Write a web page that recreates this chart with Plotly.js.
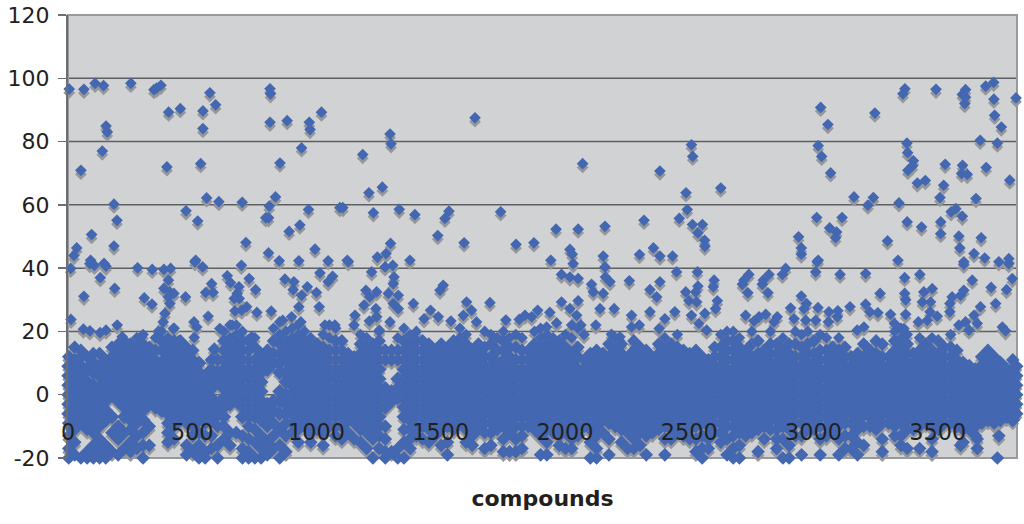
<!DOCTYPE html>
<html><head><meta charset="utf-8">
<script src="https://cdn.plot.ly/plotly-3.0.1.min.js"></script>
<style>html,body{margin:0;padding:0;background:#fff}#c{width:1024px;height:524px}</style>
</head><body><div id="c"></div>
<script>
const xTicks=[0,500,1000,1500,2000,2500,3000,3500];
const yTicks=[-20,0,20,40,60,80,100,120];
const gridValues=[0,20,40,60,80,100];
const xTitle="compounds";
const sparseX=[5,64,109,143,52,153,158,138,185,197,185,95,35,24,253,346,357,374,405,452,398,475,522,543,543,534,571,594,558,607,701,716,813,815,813,882,807,796,810,835,853,807,940,971,974,1020,968,933,890,994,1094,850,929,1047,514,91,145,
11,88,106,153,280,339,386,413,511,542,698,130,64,188,307,338,404,386,410,426,404,410,390,383,473,578,554,584,564,641,654,688,681,669,689,729,755,672,699,719,760,818,873,909,906,940,963,1000,929,1011,1014,1065,1047,12,864,900,937,507,518,508,611,661,739,198,218,62,88,129,153,296,363,424,444,589,1074,1034,
1106,1186,1211,1265,1296,1300,1229,1333,1396,1533,1517,1488,1594,1638,1741,1298,1280,1245,1124,1376,1803,1875,1964,2053,2071,2161,2382,2318,2460,2020,2029,1943,2033,2154,2300,2356,2382,2433,
1128,1222,1276,1307,1312,1309,1199,1242,1215,1289,1329,1309,1191,1239,1329,1155,1213,1242,1296,1151,1253,1390,1510,1497,1459,1490,1433,1604,1624,1591,1541,1644,1698,1762,1816,1839,1866,1890,1939,1966,1926,1986,2020,2053,2047,2027,2064,1986,2020,2053,2107,2114,2154,2181,2163,2161,2259,2382,2342,2369,2141,2124,2198,2342,2268,2268,2299,2402,2379,2442,2449,2187,2221,
2509,2514,2487,2492,2627,2513,2553,2535,2562,2563,3029,3058,3019,3033,3069,3247,3163,3241,3219,3344,3013,3115,3065,3093,3089,2940,2951,2951,3019,3298,3377,3435,3368,3360,3493,3612,3599,3609,3612,3693,3725,3726,3729,3756,3671,3740,3815,3376,3379,3402,3398,3380,3418,3450,3530,3600,3596,3619,3695,3790,3524,3509,3654,3573,3554,3599,3512,3512,3585,3675,3589,3646,3689,3786,3340,3605,3746,
2533,2600,2597,2535,2526,2486,2740,2720,2714,2821,2798,2794,2888,2875,3015,3009,3107,3210,3367,3428,3605,3786,3820,3800,3639,3715,3777,3605,3592,3558,3549,3733,3672,3268,3367,3371,3444,3478,3438,3471,3469,3498,3458,3422,3549,3310,3371,3210,3147,3227,3259,2951,2972,2962,2908,3018,3062,3098,3060,3096,2854,2808,2781,2761,2727,2841,2922,2969,3009,2539,2570,3203,3176,3326,3364,3646,3612,3585,3659,3626,3760,3773,2736,2817,2613,2606,2499,2530,2509,2563,3659,3659,3746,3740,3592];
const sparseY=[96.6,96.5,98.4,97.7,70.9,84.9,83,77,60.2,55.1,47,50.6,46.4,44,98.4,96.4,96.9,97.8,89.3,90.4,72,58.1,54.9,89.7,84.1,73,95.4,91.6,62.2,61,60.8,48.1,96.7,95.1,86.1,86.6,55.9,55.9,59.6,62.5,73.2,44.8,78,86.1,83.8,89.3,58.5,53.6,51.6,46,59.1,42.3,42.3,42.3,42.5,42.5,41.5,
39.9,41.4,40.9,40.6,40.1,39.6,39.6,39.9,42,40.4,40.9,37,31.1,33.6,30.6,28.6,36.2,33.6,32.5,32,30.9,28.8,25.7,23,30.9,35.1,32.3,32.3,24.8,37.6,35.4,34.1,32,30.4,30.4,36.7,33.2,26.5,26.7,27.8,26,26.4,36.5,35.7,33.2,31.4,34.1,32.3,27.8,27.8,38.5,37.4,35.7,23.8,23.5,24.6,23,23,21.4,18.1,20.9,22,18.3,22,18.3,20.7,20.2,19.6,20.4,18.3,20,20.9,16.7,14.4,22,22,
59.1,75.9,63.8,65.6,82.4,79.3,57.5,58.6,56.9,58,55.7,50.3,48,87.5,57.8,47.8,44.6,43.5,42.5,42.5,47.5,48,52.3,52.3,73,53.2,70.7,55.1,55.7,45.9,44.4,42.5,41.4,43.8,44.3,46.4,43.8,43.8,
42,38.8,40.4,40.9,37.2,35.1,33,32.5,30.9,32,31.4,28.8,28.3,27.2,27.2,25.1,23.3,24.6,23,22,20.4,28.8,34.6,33,26.7,24.6,24,29.3,26.7,25.1,23.3,23,29.1,23.6,23.8,25.1,24.6,26.7,26,22.7,21.4,29.3,27.2,29.7,25.1,22,22,38,37.2,36.7,34.9,32.5,32,35.7,37.2,40.4,36,35.7,33.2,30.9,27.2,22,27.2,26.2,25.1,21.4,22,24,20.9,26.2,38.8,19.1,18.3,
79,75.3,63.8,58.5,65.3,53.8,53.8,51.1,48.8,46.9,90.8,85.4,78.7,75.3,70.1,89,62.5,62.3,59.9,60.6,56,56,52.7,51.4,49.6,49.9,46.4,44.4,42.5,48.6,54.6,53,96.7,95.1,96.5,96.4,94.9,92,94,97.5,98.7,93.4,88.3,84.6,80.4,79.5,93.8,79.5,76.5,73.9,72.3,70.9,66.9,67.7,72.8,72.5,69.9,69.6,71.8,67.8,66.2,62.3,62,58.8,57.8,56.4,54.6,50.9,50.1,49.6,46.4,44.6,43.2,43,42.5,42,42,
38.8,36.2,34.1,34.3,32.5,32.5,38,36.2,34.9,38,36.2,34.9,39.9,38,42,38.8,38,38.3,37,38,41.2,41.4,40.9,36.7,36.2,33.9,33.2,33,31.4,30.9,28.8,28.8,27.8,32,32,30,32.5,33.5,29.3,29.3,26.2,24.8,23.5,23,26.2,25.4,25.4,28.6,27.8,26.2,25.9,31.2,28.8,27.2,27.4,27.5,26.2,26.5,23,24.6,24.6,25.4,24.6,23.3,25.1,23,24,23.5,23.5,22.5,20.4,21.4,20.4,22.5,20.9,25.1,23,22,22.5,20.4,21.4,20.2,32.2,32.2,29.7,27.2,29.7,29.3,25.1,25.7,-14,-17,-13,-20,-16];
const cloudX=[3,27,52,77,102,127,152,177,202,227,252,277,302,327,352,377,402,427,452,477,502,527,552,577,602,627,652,677,702,727,752,777,802,827,852,877,902,927,952,977,1002,1027,1052,1077,1102,1127,1152,1177,1202,1227,1252,1277,1302,1327,1352,1377,1402,1427,1452,1477,1502,1527,1552,1577,1602,1627,1652,1677,1702,1727,1752,1777,1802,1827,1852,1877,1902,1927,1952,1977,2002,2027,2052,2077,2102,2127,2152,2177,2202,2227,2252,2277,2302,2327,2352,2377,2402,2427,2452,2477,2502,2527,2552,2577,2602,2627,2652,2677,2702,2727,2752,2777,2802,2827,2852,2877,2902,2927,2952,2977,3002,3027,3052,3077,3102,3127,3152,3177,3202,3227,3252,3277,3302,3327,3352,3377,3402,3427,3452,3477,3502,3527,3552,3577,3602,3627,3652,3677,3702,3727,3752,3777,3802,3815];
const cloudY=[
[12,9,6,3,0,-3,-6,-9,-13,-17,-20],[15,11,7,4,1,-2,-5,-8,-11,-15,-19],[14,12,9,6,3,0,-3,-6,-9,-20],[12,8,4,1,-2,-5,-8,-11,-18,-20],
[13,10,7,3,0,-3,-6,-9,-12,-16,-20],[13,9,6,2,-1,-4,-7,-10,-14,-18,-20],[11,8,4,1,-2,-5,-8,-16,-20],[15,12,9,6,3,0,-7,-12,-18],
[16,13,10,7,4,1,-2,-10,-14,-19],[17,14,11,8,5,2,-1,-4,-7,-12,-17],[16,13,10,7,4,1,-2,-5,-8,-11,-15,-18],[18,15,12,9,6,3,0,-3,-6,-9,-13,-17],
[19,16,13,10,7,4,1,-2,-5,-8,-12,-16,-20],[15,12,9,6,3,0,-3,-10,-16],[18,14,11,8,5,2,-1,-4],[20,17,14,10,7,4,1,-2,-5],
[18,15,12,9,6,3,0,-3,-6,-9,-12,-15],[21,17,14,11,8,5,2,-1,-4,-7,-10,-14],[17,13,10,7,4,1,-2,-5,-8],[15,12,9,6,3,0,-3,-6,-9,-16,-19],
[14,11,8,5,2,-1,-4,-7,-10,-13,-18],[10,7,4,1,-2,-5,-8,-12,-16,-20],[6,3,0,-3,-6,-9,-13,-18,-20],[11,8,5,2,-1,-4,-8,-13,-17],
[11,7,4,-3,-6,-10,-16,-20],[20,17,14,11,8,5,2,-1,-4,-7,-10,-14],[22,18,15,12,9,6,3,0,-3,-12,-16],[22,19,16,13,10,7,4,1,-2,-12],
[20,17,14,11,8,5,2,-1,-4,-7,-13,-17,-20],[17,14,11,8,5,2,-1,-4,-7,-10,-14,-18,-20],[18,15,11,8,5,2,-1,-4,-7,-11,-15,-20],[13,10,7,4,1,-2,-5,-8,-13,-17,-20],
[14,11,8,-3,-7,-10,-15,-19],[21,17,13,10,-2,-5,-9,-13,-17],[23,19,16,13,10,7,1,-2,-6,-11,-16,-20],[20,17,14,11,7,4,0,-3,-6,-9,-13,-18],
[21,18,15,12,9,6,3,0,-3,-6,-9,-12],[22,19,16,13,10,7,4,1,-2,-5,-8,-11,-15],[20,17,14,11,8,5,2,-1,-4,-7,-10],[18,15,12,9,6,3,0,-3,-6,-9,-12,-15],
[16,13,10,7,4,1,-2,-5,-8,-11],[19,15,12,9,6,3,0,-3,-6,-9,-12,-16],[22,18,14,11,8,5,2,-1,-4,-7,-10],[21,17,14,11,8,5,2,-1,-4,-7,-10,-13],
[17,14,11,8,5,2,-1,-4,-7,-10,-14],[13,10,7,4,1,-2,-5,-8,-12],[12,9,6,3,0,-3,-6,-9,-14],[19,16,13,10,7,4,1,-2,-5,-8,-11,-15],
[18,15,12,9,6,3,0,-3,-6,-9,-12,-17],[16,13,10,7,4,1,-2,-5,-8,-11,-14,-20],[20,17,14,11,8,5,2,-1,-4,-7,-10,-13,-17],[14,11,2,-1,-4,-10,-14,-18,-20],
[14,11,1,-2,-18],[18,14,11,5,2,-1,-17,-20],[21,17,14,11,8,5,2,-1,-4,-7,-11,-15,-20],[19,16,13,10,7,4,1,-2,-5,-8,-11,-14,-17],
[20,17,14,11,8,5,2,-1,-4,-7,-10,-13],[17,14,11,8,5,2,-1,-4,-7,-10,-14],[16,13,10,7,4,1,-2,-5,-8,-11,-15],[14,11,8,5,2,-1,-4,-7,-10,-13],
[16,13,10,7,4,1,-2,-5,-8,-11,-16],[15,11,8,5,2,-1,-4,-7,-10,-15,-19],[17,13,10,7,4,1,-2,-5,-8,-11],[21,18,15,12,9,6,3,0,-3,-6,-9],
[19,16,13,10,7,4,1,-2,-5,-8,-11,-15],[14,11,8,5,2,-1,-4,-7,-10,-13,-16],[16,13,10,7,4,1,-2,-5,-8,-11],[20,15,12,9,6,3,0,-3,-6,-9,-12,-17],
[19,16,12,9,6,3,0,-3,-6,-9,-12,-16],[18,14,10,7,4,1,-2,-5,-8,-11],[20,17,14,11,8,5,2,-1,-4,-7,-10,-14,-18],[18,15,12,9,6,3,0,-3,-6,-9,-12,-18],
[19,15,11,8,5,2,-1,-4,-7,-10,-14,-18],[18,14,11,8,5,2,-1,-4,-7,-10,-13,-17],[14,11,8,5,2,-1,-4,-7,-10],[20,16,13,10,7,4,1,-2,-5,-8,-11],
[21,18,15,12,9,6,3,0,-3,-6,-9,-13,-19],[19,16,13,10,7,4,1,-2,-5,-8,-11,-15,-19],[18,15,12,9,6,3,0,-3,-6,-9,-12],[17,14,11,8,5,2,-1,-4,-7,-10,-13,-16],
[19,15,12,9,6,3,0,-3,-6,-9,-12,-17],[18,13,10,7,4,1,-2,-5,-8,-11,-14,-17],[21,15,12,8,5,2,-1,-4,-7,-10,-13],[19,11,8,5,2,-1,-4,-7,-10],
[13,10,7,4,1,-2,-5,-8,-11,-15,-20],[14,11,8,5,2,-1,-4,-7,-10,-13,-17,-20],[13,10,7,4,1,-2,-5,-8,-12],[16,12,9,6,3,0,-3,-6,-9,-14,-19],
[18,14,11,8,5,2,-1,-4,-7,-10],[16,13,10,7,4,1,-2,-5,-8,-11,-15],[12,9,6,3,0,-3,-6,-9,-12,-17],[17,14,11,8,5,2,-1,-4,-7,-10,-14,-17],
[15,12,9,6,3,0,-3,-6,-9,-12,-16],[14,11,8,5,2,-1,-4,-7,-10,-13,-19],[12,9,6,3,0,-3,-6,-9,-12],[16,13,10,7,4,1,-2,-5,-8,-11],
[18,14,11,8,5,2,-1,-4,-7,-10,-14,-19],[16,13,10,7,4,1,-2,-5,-8,-11,-14],[19,15,12,9,6,3,0,-3,-6,-9,-12],[14,11,8,5,2,-1,-4,-7,-10,-13],
[13,10,7,4,1,-2,-5,-8,-11,-14],[14,11,8,5,2,-1,-4,-7,-10,-14,-18],[12,9,6,3,0,-3,-6,-9,-13,-17,-20],[11,8,5,2,-1,-4,-7,-10,-14,-17],
[15,12,9,6,3,0,-3,-6,-9,-12],[19,15,12,9,6,3,0,-3,-6,-9,-12,-15],[20,17,14,11,8,5,2,-1,-4,-7,-10,-14,-19],[20,17,14,11,8,5,2,-1,-4,-7,-10,-13,-17,-20],
[18,15,12,9,6,3,0,-3,-6,-9,-12,-16,-20],[14,11,8,5,2,-1,-4,-7,-10,-13],[20,16,12,9,6,3,0,-3,-6,-9,-12],[17,13,10,7,4,1,-2,-5,-8,-11,-18],
[14,11,8,5,2,-1,-4,-7,-10,-14],[20,16,13,10,7,4,1,-2,-5,-8,-11],[16,13,10,7,4,1,-2,-5,-8,-11,-14,-17],[18,14,11,8,5,2,-1,-4,-7,-10,-14,-20],
[16,13,10,7,4,1,-2,-5,-8,-11,-16,-20],[20,16,12,9,6,3,0,-3,-6,-9,-13],[19,15,12,9,6,3,0,-3,-6,-9,-13,-19],[20,16,13,10,7,4,1,-2,-5,-8,-11],
[17,13,10,7,4,1,-2,-5,-8,-11],[19,14,11,8,5,2,-1,-4,-7,-10,-14,-19],[18,14,11,8,5,2,-1,-4,-7,-10,-13],[15,12,9,6,3,0,-3,-6,-9,-12],
[18,14,11,8,5,2,-1,-4,-7,-10,-14,-19],[15,12,9,6,3,0,-3,-6,-9,-13,-17],[12,9,6,3,0,-3,-6,-9,-13,-17],[13,10,7,4,1,-2,-5,-8,-11,-15,-19],
[16,12,9,6,3,0,-3,-6,-10,-16],[14,11,8,5,2,-1,-4,-7,-10],[17,13,10,7,4,1,-2,-5,-8,-11],[16,12,9,6,3,0,-3,-6,-9,-14,-18],
[12,9,6,3,0,-3,-6,-9],[20,17,14,11,8,5,2,-1,-4,-7,-10,-13],[21,18,15,12,9,6,3,0,-3,-6,-9,-13,-16],[19,16,13,10,7,4,1,-2,-5,-8,-11,-17],
[13,10,7,4,1,-2,-5,-8,-11],[18,14,11,8,5,2,-1,-4,-7,-10,-17],[16,12,9,6,3,0,-3,-6,-9],[18,14,11,8,5,2,-1,-4,-7,-10,-14,-18],
[17,13,10,7,4,1,-2,-5,-8,-11],[15,12,9,6,3,0,-3,-6,-9],[19,15,12,9,6,3,0,-3,-6,-9],[14,11,8,5,2,-1,-4,-7,-10],
[10,7,4,1,-2,-5,-8,-11,-15],[9,6,3,0,-3,-6,-9,-11],[8,5,2,-1,-4,-7,-10,-13],[12,9,6,3,0,-3,-6,-9],
[14,10,7,4,1,-2,-5,-8],[12,9,6,3,0,-3,-6,-9],[10,7,4,1,-2,-5,-8],[8,5,2,-1,-4,-7],[11,7,4,1,-2,-5,-8],[9,6,3,0,-3,-6]];

const allX=[],allY=[];
cloudY.forEach((col,i)=>col.forEach(v=>{allX.push(cloudX[i]);allY.push(v);}));
sparseX.forEach((x,i)=>{allX.push(x);allY.push(sparseY[i]);});
const shadowDrop=1.2;
const base={mode:"markers",type:"scatter",cliponaxis:false,hoverinfo:"skip",showlegend:false};
const size=v=>(v>=-8&&v<=10)?11.5:(v>=-20&&v<=17)?10.5:9;
const traces=[
 Object.assign({},base,{x:allX,y:allY.map(v=>v-shadowDrop),marker:{symbol:"diamond",opacity:1,size:allY.map(v=>v<=17?10:9),color:"#96979a",line:{width:0}}}),
 Object.assign({},base,{x:allX,y:allY,marker:{symbol:"diamond",opacity:1,size:allY.map(size),color:"#4467b1",line:{width:0}}})
];
const shapes=gridValues.map(v=>({type:"line",xref:"paper",x0:0,x1:1,yref:"y",y0:v,y1:v,layer:"below",line:{color:"#5e5f62",width:1.5}}));
shapes.push({type:"rect",xref:"paper",yref:"paper",x0:0,x1:1,y0:0,y1:1,layer:"below",line:{color:"#98999c",width:2}});
const layout={
 width:1024,height:524,margin:{l:68,r:7,t:15,b:66,pad:0},
 paper_bgcolor:"#fff",plot_bgcolor:"#d1d2d4",showlegend:false,
 font:{family:"'DejaVu Sans',sans-serif",color:"#231f20",size:22},
 xaxis:{range:[0,3819],tickmode:"array",tickvals:xTicks,ticktext:xTicks.map(String),showgrid:false,zeroline:false,showline:false,ticks:"",
   anchor:"free",position:20/140,ticklabelstandoff:22,tickfont:{size:22.3,color:"#231f20"},
   title:{text:xTitle,standoff:46,font:{size:22,weight:"bold",color:"#231f20"}}},
 yaxis:{range:[-20,120],tickmode:"array",tickvals:yTicks,ticktext:yTicks.map(String),showgrid:false,zeroline:false,showline:true,linecolor:"#6d6e71",linewidth:2,
   ticks:"outside",ticklen:8,tickwidth:1.5,tickcolor:"#6d6e71",ticklabelstandoff:4,tickfont:{size:22,color:"#231f20"}},
 shapes:shapes
};
Plotly.newPlot("c",traces,layout,{displayModeBar:false,staticPlot:true});
</script></body></html>
